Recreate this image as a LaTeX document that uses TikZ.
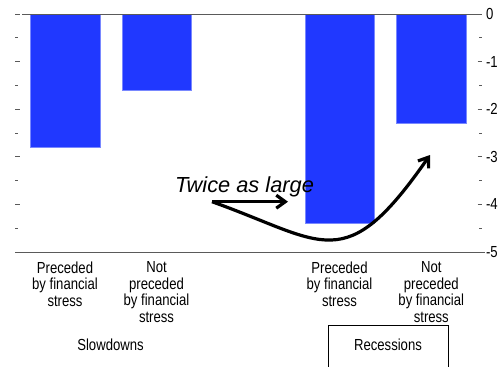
\documentclass[tikz,border=0pt]{standalone}
\usepackage{fontspec}
\setmainfont{Liberation Sans}
\newfontfamily\narrowsans{Liberation Sans}[FakeStretch=0.82]
\usetikzlibrary{positioning}
\usetikzlibrary{arrows.meta}
\definecolor{barblue}{RGB}{32,56,255}
\definecolor{axisgray}{RGB}{90,90,90}

\begin{document}
\begin{tikzpicture}[
    x=1pt,y=-1pt,
    every node/.style={
        inner sep=0pt,
        outer sep=0pt,
    },
    bar/.style={
        fill=barblue,
        draw=barblue!60!white,
        line width=.5pt,
    },
    axisline/.style={
        draw=axisgray,
        line width=.8pt,
    },
    tickline/.style={
        draw=axisgray,
        line width=.7pt,
    },
    ticklabel/.style={
        anchor=west,
        font=\narrowsans\fontsize{16}{16}\selectfont,
    },
    catlabel/.style={
        anchor=north,
        align=center,
        font=\narrowsans\fontsize{16}{16.5}\selectfont,
    },
    grouplabel/.style={
        anchor=base,
        font=\narrowsans\fontsize{16}{16}\selectfont,
    },
    pointer/.style={
        -{Straight Barb[length=9pt,width=13pt]},
        line width=3.2pt,
    },
]
    \useasboundingbox (0,0) rectangle (504,367);
    \clip (0,0) rectangle (504,367);

    % ~~~ bars ~~~~~~~~~~~~~~~~~~~~~~~~~~~~~~~~~~~~~~~~~~~~~~~~~~~~~
    \foreach \cx/\val in {65/-2.8, 156.5/-1.6, 339.5/-4.4, 431.3/-2.3}{
        \path[bar] ({\cx-34.75},14) rectangle ({\cx+34.75},{14-47.6*\val});
    }

    % ~~~ axes and ticks ~~~~~~~~~~~~~~~~~~~~~~~~~~~~~~~~~~~~~~~~~~~~~
    \draw[axisline] (22,14) -- (481.5,14);
    \draw[axisline] (15,252) -- (485,252);
    \foreach \n [evaluate=\n as \ty using 14+47.6*\n] in {0,...,5}{
        \draw[tickline] (15,\ty) -- (19.5,\ty);
        \draw[tickline] (477.5,\ty) -- (481.5,\ty);
        \node[ticklabel] (tick\n) at (486,\ty) {\ifnum\n=0 0\else -\n\fi};
    }
    \foreach \n [evaluate=\n as \ty using 37.8+47.6*\n] in {0,...,4}{
        \draw[tickline] (15,\ty) -- (17.5,\ty);
        \draw[tickline] (479,\ty) -- (481.5,\ty);
    }

    % ~~~ category labels ~~~~~~~~~~~~~~~~~~~~~~~~~~~~~~~~~~~~~~~~~~~~
    \node[catlabel] (slowfin) at (65,261.5)    {Preceded\\by financial\\stress};
    \node[catlabel] (slownot) at (156.5,261.5) {Not\\preceded\\by financial\\stress};
    \node[catlabel] (recfin)  at (339.5,261.5) {Preceded\\by financial\\stress};
    \node[catlabel] (recnot)  at (431.3,261.5) {Not\\preceded\\by financial\\stress};

    \node[grouplabel] (slowdowns) at (110.5,350) {Slowdowns};
    \node[grouplabel,draw,line width=.8pt,minimum width=120pt,
          text height=25pt,text depth=30pt] (recessions) at (388,350) {Recessions};

    % ~~~ annotation ~~~~~~~~~~~~~~~~~~~~~~~~~~~~~~~~~~~~~~~~~~~~~~~~~
    \node[anchor=base west,font=\fontsize{21.8}{22}\selectfont\itshape]
        (twice) at (175,192.3) {Twice as large};
    \coordinate (arrowfoot) at (212,201.7);
    \coordinate (slowtip)   at (288,201.7);
    \coordinate (rectip)    at (430,155);
    \draw[pointer] (arrowfoot) -- (slowtip);
    \draw[pointer] (arrowfoot) .. controls (325,242) and (344.5,278) .. (rectip);
\end{tikzpicture}
\end{document}
